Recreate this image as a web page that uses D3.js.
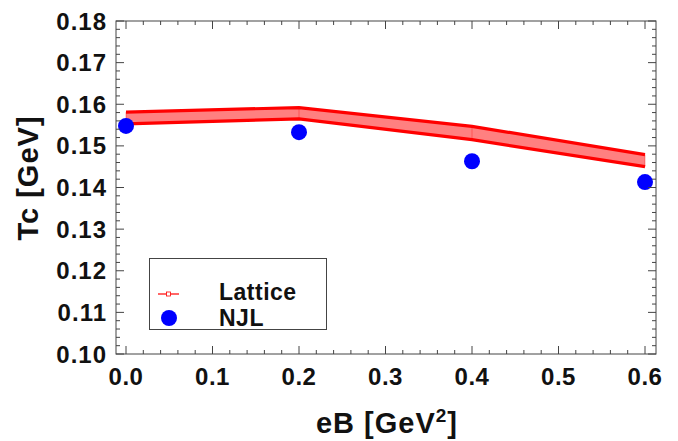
<!DOCTYPE html>
<html>
<head>
<meta charset="utf-8">
<script src="https://cdn.jsdelivr.net/npm/d3@7"></script>
<style>
  body { margin: 0; background: #fff; }
  text { font-family: "Liberation Sans", Arial, sans-serif; font-weight: bold; fill: #111; }
</style>
</head>
<body>
<script>
// data
var eB = [0.0, 0.2, 0.4, 0.6];
var latticeUpper = [0.1581, 0.1592, 0.1547, 0.1479];
var latticeLower = [0.1553, 0.1565, 0.1515, 0.1450];
var njl = [0.1548, 0.1533, 0.1463, 0.1413];
var xTicks = [0.0, 0.1, 0.2, 0.3, 0.4, 0.5, 0.6];
var yTicks = [0.10, 0.11, 0.12, 0.13, 0.14, 0.15, 0.16, 0.17, 0.18];

var W = 678, H = 441;
var frame = {left: 116, right: 656, top: 21, bottom: 354};

var svg = d3.select("body").append("svg")
    .attr("width", W)
    .attr("height", H);

var x = d3.scaleLinear().domain([0, 0.6]).range([126, 645]);
var y = d3.scaleLinear().domain([0.10, 0.18]).range([frame.bottom, frame.top]);

// lattice band
var band = eB.map(function(d, i) { return {x: d, lo: latticeLower[i], hi: latticeUpper[i]}; });

svg.append("path")
    .datum(band)
    .attr("fill", "#ff8080")
    .attr("d", d3.area()
      .x(function(d) { return x(d.x); })
      .y0(function(d) { return y(d.lo); })
      .y1(function(d) { return y(d.hi); }));

["lo", "hi"].forEach(function(k) {
  svg.append("path")
    .datum(band)
    .attr("fill", "none")
    .attr("stroke", "#ff0000")
    .attr("stroke-width", 3.2)
    .attr("d", d3.line()
      .x(function(d) { return x(d.x); })
      .y(function(d) { return y(d[k]); }));
});

// faint error bars of the lattice points
svg.selectAll(".eb")
    .data(band)
  .enter().append("line")
    .attr("class", "eb")
    .attr("x1", function(d) { return x(d.x); })
    .attr("x2", function(d) { return x(d.x); })
    .attr("y1", function(d) { return y(d.lo); })
    .attr("y2", function(d) { return y(d.hi); })
    .attr("stroke", "#ff0000")
    .attr("stroke-opacity", 0.35)
    .attr("stroke-width", 1);

// NJL points
svg.selectAll(".njl")
    .data(njl)
  .enter().append("circle")
    .attr("class", "njl")
    .attr("cx", function(d, i) { return x(eB[i]); })
    .attr("cy", function(d) { return y(d); })
    .attr("r", 8)
    .attr("fill", "#0000ff");

// frame
svg.append("rect")
    .attr("x", frame.left)
    .attr("y", frame.top)
    .attr("width", frame.right - frame.left)
    .attr("height", frame.bottom - frame.top)
    .attr("fill", "none")
    .attr("stroke", "#444")
    .attr("stroke-width", 1);

// ticks (inside, on all four sides)
var xMinor = d3.range(0, 0.6001, 0.02);
var yMinor = d3.range(0.10, 0.18001, 0.002);
var tickG = svg.append("g").attr("stroke", "#444").attr("stroke-width", 1);

function isMajor(v, step) { return Math.abs(v / step - Math.round(v / step)) < 1e-6; }

xMinor.forEach(function(v) {
  var len = isMajor(v, 0.1) ? 8 : 4;
  tickG.append("line").attr("x1", x(v)).attr("x2", x(v))
    .attr("y1", frame.bottom).attr("y2", frame.bottom - len);
  tickG.append("line").attr("x1", x(v)).attr("x2", x(v))
    .attr("y1", frame.top).attr("y2", frame.top + len);
});
yMinor.forEach(function(v) {
  var len = isMajor(v, 0.01) ? 8 : 4;
  tickG.append("line").attr("x1", frame.left).attr("x2", frame.left + len)
    .attr("y1", y(v)).attr("y2", y(v));
  tickG.append("line").attr("x1", frame.right).attr("x2", frame.right - len)
    .attr("y1", y(v)).attr("y2", y(v));
});

// tick labels
svg.selectAll(".xl")
    .data(xTicks)
  .enter().append("text")
    .attr("class", "xl")
    .attr("x", function(d) { return x(d); })
    .attr("y", 385)
    .attr("text-anchor", "middle")
    .style("font-size", "24px")
    .style("letter-spacing", "0.5px")
    .text(function(d) { return d.toFixed(1); });

svg.selectAll(".yl")
    .data(yTicks)
  .enter().append("text")
    .attr("class", "yl")
    .attr("x", 107)
    .attr("y", function(d) { return y(d) + 8.5; })
    .attr("text-anchor", "end")
    .style("font-size", "24px")
    .style("letter-spacing", "1px")
    .text(function(d) { return d.toFixed(2); });

// axis titles
var xt = svg.append("text")
    .attr("x", 387)
    .attr("y", 433)
    .attr("text-anchor", "middle")
    .style("font-size", "29px")
    .style("letter-spacing", "1px");
xt.append("tspan").text("eB [GeV");
xt.append("tspan").attr("dy", -11).style("font-size", "19px").text("2");
xt.append("tspan").attr("dy", 11).text("]");

svg.append("text")
    .attr("transform", "translate(38,178) rotate(-90)")
    .attr("text-anchor", "middle")
    .style("font-size", "29px")
    .style("letter-spacing", "1px")
    .text("Tc [GeV]");

// legend
var lg = svg.append("g");
lg.append("rect")
    .attr("x", 149.5).attr("y", 258.5)
    .attr("width", 177).attr("height", 71)
    .attr("fill", "#fff")
    .attr("stroke", "#444")
    .attr("stroke-width", 1);
lg.append("line")
    .attr("x1", 158).attr("x2", 179).attr("y1", 294).attr("y2", 294)
    .attr("stroke", "#ff0000").attr("stroke-width", 1.2);
lg.append("rect")
    .attr("x", 166.5).attr("y", 292).attr("width", 4).attr("height", 4)
    .attr("fill", "#fff").attr("stroke", "#ff0000").attr("stroke-width", 0.8);
lg.append("circle")
    .attr("cx", 169).attr("cy", 318).attr("r", 8)
    .attr("fill", "#0000ff");
lg.append("text").attr("x", 219).attr("y", 300).style("font-size", "23px").style("letter-spacing", "0.5px").text("Lattice");
lg.append("text").attr("x", 219).attr("y", 326).style("font-size", "23px").style("letter-spacing", "0.5px").text("NJL");
</script>
</body>
</html>
